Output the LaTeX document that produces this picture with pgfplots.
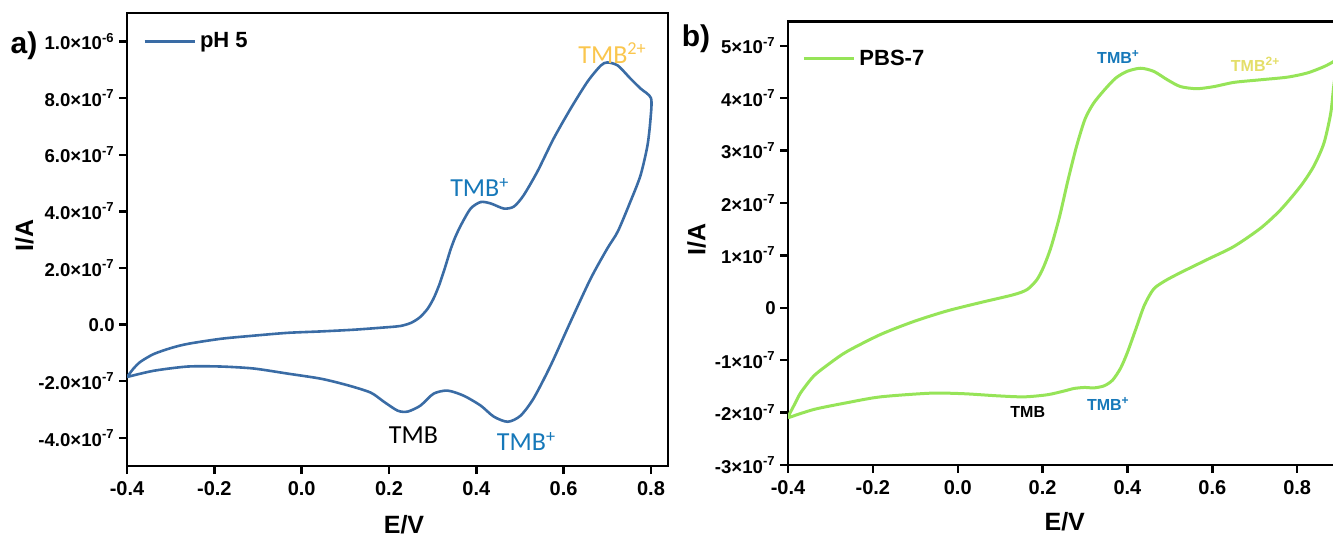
\documentclass[border=0pt]{standalone}
\usepackage{pgfplots}
\pgfplotsset{compat=1.18}
\usepackage{fontspec}
\setmainfont{Liberation Sans}
\newfontfamily\calfont{Carlito}
\definecolor{lineA}{RGB}{58,108,165}
\definecolor{lineB}{RGB}{150,228,88}
\definecolor{tmbblue}{RGB}{22,120,185}
\definecolor{tmbyelA}{RGB}{250,198,78}
\definecolor{tmbyelB}{RGB}{228,222,105}
\pgfplotsset{
  cvstyle/.style={
    scale only axis,
    anchor=south west,
    axis line style={line width=1.3pt},
    tick style={black, line width=1.2pt},
    major tick length=4pt,
    tick align=outside,
    xtick pos=bottom, ytick pos=left,
    xticklabel style={font=\bfseries\fontsize{10}{12}\selectfont},
    yticklabel style={font=\bfseries\fontsize{9.3}{11}\selectfont, inner xsep=2pt},
    label style={font=\bfseries\fontsize{12.5}{14}\selectfont},
    legend style={draw=none, fill=none, inner sep=0pt, anchor=west,
      font=\bfseries\fontsize{11}{13}\selectfont, nodes={inner sep=2pt}},
    legend image code/.code={\draw[##1] (0pt,0pt) -- (25pt,0pt);},
    clip=true,
  }
}
\begin{document}
\begin{tikzpicture}
\path[use as bounding box] (0,0) rectangle (666.5pt,269.5pt);
% ---------------- panel a ----------------
\begin{axis}[cvstyle,
  at={(63.5pt,36.4pt)}, width=270.5pt, height=226.5pt,
  xmin=-0.4, xmax=0.839, ymin=-5, ymax=11,
  xtick={-0.4,-0.2,0,0.2,0.4,0.6,0.8},
  xticklabels={-0.4,-0.2,0.0,0.2,0.4,0.6,0.8},
  ytick={-4,-2,0,2,4,6,8,10},
  yticklabels={-4.0×10\textsuperscript{-7},-2.0×10\textsuperscript{-7},0.0,2.0×10\textsuperscript{-7},4.0×10\textsuperscript{-7},6.0×10\textsuperscript{-7},8.0×10\textsuperscript{-7},1.0×10\textsuperscript{-6}},
  xlabel={E/V}, ylabel={I/A},
  xlabel style={at={(axis description cs:0.512,-0.13)}, anchor=center},
  ylabel style={at={(axis description cs:-0.19,0.51)}, anchor=center},
  legend style={at={(axis description cs:0.0296,0.937)}},
]
\addplot[lineA, line width=1.3pt, smooth, tension=0.45] coordinates {
(-0.400,-1.85) (-0.385,-1.55) (-0.369,-1.31) (-0.339,-1.04) (-0.300,-0.83)
(-0.261,-0.68) (-0.185,-0.50) (-0.110,-0.39) (-0.032,-0.29) (0.044,-0.24)
(0.119,-0.18) (0.181,-0.11) (0.225,-0.05) (0.250,0.06) (0.270,0.25)
(0.288,0.55) (0.302,0.92) (0.315,1.40) (0.328,2.00) (0.341,2.65)
(0.352,3.10) (0.366,3.55) (0.387,4.10) (0.410,4.33) (0.433,4.28)
(0.463,4.10) (0.486,4.17) (0.508,4.56) (0.540,5.41) (0.577,6.57)
(0.616,7.63) (0.655,8.59) (0.685,9.15) (0.700,9.26) (0.724,9.15)
(0.753,8.69) (0.776,8.34) (0.800,8.00)
(0.799,7.28) (0.792,6.33) (0.776,5.27) (0.753,4.35) (0.724,3.29)
(0.700,2.69) (0.662,1.63) (0.616,0.11) (0.570,-1.45) (0.531,-2.61)
(0.501,-3.22) (0.472,-3.43) (0.440,-3.25) (0.410,-2.86) (0.371,-2.51)
(0.334,-2.33) (0.302,-2.44) (0.272,-2.86) (0.243,-3.07) (0.220,-3.04)
(0.188,-2.72) (0.158,-2.40) (0.105,-2.14) (0.044,-1.91) (-0.032,-1.73)
(-0.110,-1.55) (-0.185,-1.48) (-0.261,-1.48) (-0.339,-1.63) (-0.400,-1.85)
};
\addlegendentry{pH 5}
\node[text=tmbyelA, font=\calfont\fontsize{13}{15}\selectfont] at (axis cs:0.712,9.6) {TMB\textsuperscript{2+}};
\node[text=tmbblue, font=\calfont\fontsize{13}{15}\selectfont] at (axis cs:0.408,4.84) {TMB\textsuperscript{+}};
\node[text=black, font=\calfont\fontsize{13}{15}\selectfont] at (axis cs:0.256,-3.92) {TMB};
\node[text=tmbblue, font=\calfont\fontsize{13}{15}\selectfont] at (axis cs:0.515,-4.13) {TMB\textsuperscript{+}};
\end{axis}
% ---------------- panel b ----------------
\begin{axis}[cvstyle,
  at={(394pt,37pt)}, width=274pt, height=221.7pt,
  xmin=-0.4, xmax=0.8915, ymin=-3, ymax=5.46,
  xtick={-0.4,-0.2,0,0.2,0.4,0.6,0.8},
  xticklabels={-0.4,-0.2,0.0,0.2,0.4,0.6,0.8},
  ytick={-3,-2,-1,0,1,2,3,4,5},
  yticklabels={-3×10\textsuperscript{-7},-2×10\textsuperscript{-7},-1×10\textsuperscript{-7},0,1×10\textsuperscript{-7},2×10\textsuperscript{-7},3×10\textsuperscript{-7},4×10\textsuperscript{-7},5×10\textsuperscript{-7}},
  xlabel={E/V}, ylabel={I/A},
  xlabel style={at={(axis description cs:0.505,-0.1286)}, anchor=center},
  ylabel style={at={(axis description cs:-0.167,0.508)}, anchor=center},
  legend style={at={(axis description cs:0.0257,0.916)}},
]
\addplot[lineB, line width=1.5pt, smooth, tension=0.45] coordinates {
(-0.400,-2.08) (-0.385,-1.85) (-0.370,-1.62) (-0.339,-1.30) (-0.300,-1.05)
(-0.260,-0.83) (-0.182,-0.51) (-0.103,-0.26) (-0.025,-0.06) (0.054,0.10)
(0.132,0.25) (0.164,0.35) (0.187,0.54) (0.203,0.79) (0.220,1.16)
(0.240,1.74) (0.260,2.44) (0.280,3.08) (0.300,3.60) (0.320,3.90) (0.345,4.15)
(0.372,4.38) (0.399,4.51) (0.431,4.57) (0.462,4.51) (0.494,4.35)
(0.525,4.22) (0.564,4.18) (0.604,4.22) (0.651,4.30) (0.714,4.35)
(0.777,4.40) (0.824,4.48) (0.863,4.60) (0.886,4.70) (0.895,4.78)
(0.886,4.22) (0.879,3.71) (0.863,3.14) (0.839,2.70) (0.808,2.32)
(0.761,1.87) (0.714,1.52) (0.651,1.17) (0.588,0.92) (0.525,0.67)
(0.490,0.52) (0.462,0.36) (0.440,0.05) (0.420,-0.40) (0.400,-0.85) (0.384,-1.15)
(0.365,-1.38) (0.345,-1.49) (0.320,-1.53) (0.300,-1.52) (0.274,-1.54) (0.250,-1.59)
(0.211,-1.66) (0.156,-1.70) (0.093,-1.68) (0.014,-1.64) (-0.064,-1.63)
(-0.182,-1.70) (-0.260,-1.81) (-0.339,-1.94) (-0.400,-2.10)
};
\addlegendentry{PBS-7}
\node[text=tmbblue, font=\bfseries\fontsize{8}{10}\selectfont] at (axis cs:0.379,4.79) {TMB\textsuperscript{+}};
\node[text=tmbyelB, font=\bfseries\fontsize{8}{10}\selectfont] at (axis cs:0.702,4.65) {TMB\textsuperscript{2+}};
\node[text=tmbblue, font=\bfseries\fontsize{8}{10}\selectfont] at (axis cs:0.355,-1.84) {TMB\textsuperscript{+}};
\node[text=black, font=\bfseries\fontsize{8}{10}\selectfont] at (axis cs:0.165,-1.99) {TMB};
\end{axis}
% panel letters
\node[font=\bfseries\fontsize{15}{18}\selectfont] at (12pt,246.5pt) {a)};
\node[font=\bfseries\fontsize{15}{18}\selectfont] at (348pt,250pt) {b)};
\end{tikzpicture}
\end{document}
